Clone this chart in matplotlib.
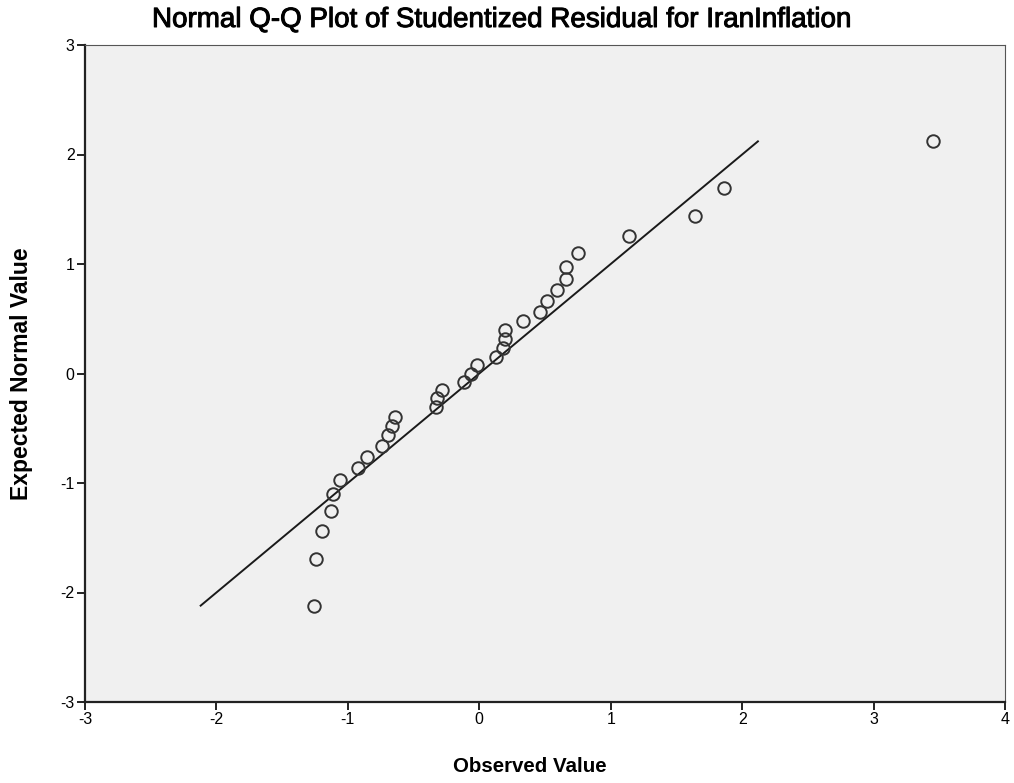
import matplotlib.pyplot as plt
import matplotlib.patheffects as pe
import numpy as np

# observed studentized residuals and their expected normal values
observed = [-1.256, -1.24, -1.195, -1.13, -1.115, -1.058, -0.92, -0.857, -0.74,
            -0.692, -0.662, -0.645, -0.33, -0.322, -0.28, -0.12, -0.06, -0.015,
            0.13, 0.18, 0.193, 0.193, 0.33, 0.46, 0.513, 0.592, 0.656, 0.662,
            0.753, 1.139, 1.638, 1.859, 3.45]
expected = [-2.12, -1.69, -1.44, -1.255, -1.105, -0.977, -0.86, -0.758, -0.658,
            -0.566, -0.48, -0.393, -0.31, -0.226, -0.153, -0.075, 0.0, 0.075,
            0.153, 0.237, 0.315, 0.393, 0.48, 0.566, 0.658, 0.758, 0.86, 0.977,
            1.105, 1.26, 1.44, 1.69, 2.12]
x_ticks = [-3, -2, -1, 0, 1, 2, 3, 4]
y_ticks = [-3, -2, -1, 0, 1, 2, 3]

plt.rcParams['font.family'] = ['Liberation Sans', 'DejaVu Sans']
plt.rcParams['axes.unicode_minus'] = False

fig = plt.figure(figsize=(10.14, 7.83), dpi=100)
ax = fig.add_axes([85 / 1014, 1 - 702 / 783, 920 / 1014, 657 / 783])
ax.set_facecolor('#f0f0f0')

# reference line y = x over the range of expected values
ref = np.array([min(expected), max(expected)])
ax.plot(ref, ref, color='#1a1a1a', lw=1.4, zorder=2)

ax.plot(observed, expected, 'o', ms=9, mfc='none', mec='#333333', mew=1.4, zorder=3)

ax.set_xlim(x_ticks[0], x_ticks[-1])
ax.set_ylim(y_ticks[0], y_ticks[-1])
ax.set_xticks(x_ticks)
ax.set_yticks(y_ticks)
ax.tick_params(direction='out', length=6, width=1.4, labelsize=11.5, colors='#222222',
               labelcolor='black', pad=1.5)
for s in ax.spines.values():
    s.set_color('#555555')
    s.set_linewidth(0.8)
ax.spines['left'].set_color('#222222')
ax.spines['bottom'].set_color('#222222')
ax.spines['left'].set_linewidth(1.6)
ax.spines['bottom'].set_linewidth(1.6)

# title is a bit heavier than regular weight in the original
fig.text(501 / 1014, 1 - 20 / 783, 'Normal Q-Q Plot of Studentized Residual for IranInflation',
         ha='center', va='center', fontsize=20,
         path_effects=[pe.withStroke(linewidth=0.7, foreground='black')])
fig.text(530 / 1014, 1 - 766 / 783, 'Observed Value', ha='center', va='center',
         fontsize=14.8, fontweight='bold')
fig.text(22 / 1014, 1 - 374 / 783, 'Expected Normal Value', ha='center', va='center',
         rotation=90, fontsize=16.5, fontweight='bold')

fig.savefig('out.png', dpi=100)
